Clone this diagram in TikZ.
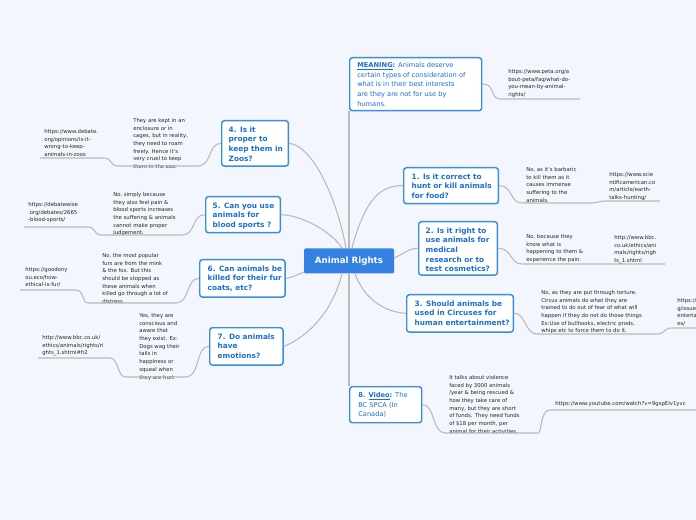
\documentclass[tikz,border=0pt]{standalone}
\usepackage{fontspec}
\setmainfont{DejaVu Sans}
\begin{document}
\begin{tikzpicture}[x=0.75pt,y=-0.75pt,
  branch/.style={draw=bluel,line width=1.1pt,fill=white,rounded corners=2pt,align=left,text=blued,font=\fontsize{5.5}{7.2}\selectfont\bfseries,inner sep=0pt,anchor=north west},
  leaf/.style={align=left,text=gray!30!black,font=\fontsize{4}{5.8}\selectfont,inner sep=0pt,anchor=north west},
  conn/.style={draw=gray!55,line width=0.8pt}]
\definecolor{bluel}{HTML}{3A8EE0}
\definecolor{blued}{HTML}{1A6FD4}
\definecolor{bg}{HTML}{F4F6FD}
\fill[bg] (0,0) rectangle (696,520);
\useasboundingbox (0,0) rectangle (696,520);
% center
\node[fill=bluel!90!blue,text=white,font=\fontsize{6.5}{8}\selectfont\bfseries,minimum width=67.5pt,minimum height=18.75pt,rounded corners=1pt] (c) at (349,261) {Animal Rights};
% branches
\node[branch,minimum width=99pt,minimum height=39.75pt] (m) at (349,57) {};
\node[leaf,text=blued,font=\fontsize{5}{7.3}\selectfont,anchor=north west] at (357,62) {\textbf{\underline{MEANING}:} Animals deserve\\certain types of consideration of\\what is in their best interests\\are they are not for use by\\humans.};
\node[branch,minimum width=71pt,minimum height=27pt] (b1) at (403,167) {};
\node[branch,anchor=north west,draw=none,fill=none] at (411,173) {1. Is it correct to\\hunt or kill animals\\for food?};
\node[branch,minimum width=59pt,minimum height=40pt] (b2) at (418,221) {};
\node[branch,draw=none,fill=none] at (425,227) {2. Is it right to\\use animals for\\medical\\research or to\\test cosmetics?};
\node[branch,minimum width=80pt,minimum height=28pt] (b3) at (406,294) {};
\node[branch,draw=none,fill=none] at (414,300) {3. Should animals be\\used in Circuses for\\human entertainment?};
\node[branch,minimum width=54pt,minimum height=27pt] (b8) at (349,386) {};
\node[leaf,text=blued,font=\fontsize{5}{7.3}\selectfont] at (358,392) {\textbf{8. \underline{Video}:} The\\BC SPCA (In\\Canada)};
\node[branch,minimum width=50pt,minimum height=34pt] (b4) at (221,120) {};
\node[branch,draw=none,fill=none] at (228,126) {4. Is it\\proper to\\keep them in\\Zoos?};
\node[branch,minimum width=56pt,minimum height=27pt] (b5) at (205,196) {};
\node[branch,draw=none,fill=none] at (212,202) {5. Can you use\\animals for\\blood sports ?};
\node[branch,minimum width=64pt,minimum height=28pt] (b6) at (199,259) {};
\node[branch,draw=none,fill=none] at (207,265) {6. Can animals be\\killed for their fur\\coats, etc?};
\node[branch,minimum width=55pt,minimum height=28pt] (b7) at (209,327) {};
\node[branch,draw=none,fill=none] at (217,333) {7. Do animals\\have\\emotions?};
% center connectors
\draw[conn] (349,248) -- (m.south west);
\draw[conn] (349,274) -- (b8.north west);
\draw[conn] (352,248) .. controls (365,200) and (380,185) .. (b1.west);
\draw[conn] (394,258) .. controls (405,253) and (410,248) .. (b2.west);
\draw[conn] (355,274) .. controls (365,300) and (385,312) .. (b3.west);
\draw[conn] (346,248) .. controls (335,190) and (310,145) .. (b4.east);
\draw[conn] (342,248) .. controls (330,230) and (300,215) .. (b5.east);
\draw[conn] (304,272) .. controls (295,276) and (290,278) .. (b6.east);
\draw[conn] (342,274) .. controls (330,320) and (300,340) .. (b7.east);
% right leaves
\node[leaf] (lm) at (508,69) {https://www.peta.org/a\\bout-peta/faq/what-do-\\you-mean-by-animal-\\rights/};
\draw[conn] (m.east) .. controls (495,83) and (490,99) .. (500,99) -- (580,99);
\node[leaf] (l1) at (526,167) {No, as it's barbaric\\to kill them as it\\causes immense\\suffering to the\\animals.};
\draw[conn] (b1.east) .. controls (512,185) and (510,203) .. (522,203) -- (590,203) .. controls (598,203) and (598,201) .. (606,201) -- (660,201);
\node[leaf] (u1) at (609,172) {https://www.scie\\ntificamerican.co\\m/article/earth-\\talks-hunting/};
\node[leaf] (l2) at (526,234) {No, because they\\know what is\\happening to them \&\\experience the pain.};
\draw[conn] (b2.east) .. controls (512,248) and (510,264) .. (522,264) -- (605,264) -- (665,264);
\node[leaf] (u2) at (614,235) {http://www.bbc.\\co.uk/ethics/ani\\mals/rights/righ\\ts\_1.shtml};
\node[leaf] (l3) at (541,290) {No, as they are put through torture.\\Circus animals do what they are\\trained to do out of fear of what will\\happen if they do not do those things\\Ex:Use of bullhooks, electric prods,\\whips etc to force them to do it.};
\draw[conn] (b3.east) .. controls (525,312) and (525,334) .. (537,334) -- (658,334) .. controls (664,334) and (664,328) .. (672,328) -- (696,328);
\node[leaf] (u3) at (677,298) {https://\\g/issue\\enterta\\es/};
\node[leaf] (l8) at (449,375) {It talks about violence\\faced by 3000 animals\\/year \& being rescued \&\\how they take care of\\many, but they are short\\of funds. They need funds\\of \$18 per month, per\\animal for their activities.};
\draw[conn] (b8.east) .. controls (435,404) and (432,433) .. (445,433) -- (538,433) .. controls (542,433) and (540,410) .. (550,410) -- (696,410);
\node[leaf] (u8) at (555,401) {https://www.youtube.com/watch?v=9gspEIv1yvc};
% left leaves
\node[leaf] (l4) at (133,118) {They are kept in an\\enclosure or in\\cages, but in reality,\\they need to roam\\freely. Hence it's\\very cruel to keep\\them in the zoo.};
\draw[conn] (b4.west) .. controls (208,143) and (212,166) .. (198,166) -- (118,166) .. controls (110,166) and (112,158) .. (104,158) -- (40,158);
\node[leaf] (u4) at (44,129) {https://www.debate.\\org/opinions/is-it-\\wrong-to-keep-\\animals-in-zoos};
\node[leaf] (l5) at (113,192) {No, simply because\\they also feel pain \&\\blood sports increases\\the suffering \& animals\\cannot make proper\\judgement.};
\draw[conn] (b5.west) .. controls (192,214) and (196,235) .. (182,235) -- (100,235) .. controls (94,235) and (96,227) .. (88,227) -- (24,227);
\node[leaf] (u5) at (28,202) {https://debatewise\\.org/debates/2665\\-blood-sports/};
\node[leaf] (l6) at (102,253) {No, the most popular\\furs are from the mink\\\& the fox. But this\\should be stopped as\\these animals when\\killed go through a lot of\\distress.};
\draw[conn] (b6.west) .. controls (186,278) and (190,303) .. (176,303) -- (88,303) .. controls (82,303) and (84,290) .. (76,290) -- (20,290);
\node[leaf] (u6) at (25,267) {https://goodony\\ou.eco/how-\\ethical-is-fur/};
\node[leaf] (l7) at (139,313) {Yes, they are\\conscious and\\aware that\\they exist. Ex:\\Dogs wag their\\tails in\\happiness or\\squeal when\\they are hurt};
\draw[conn] (b7.west) .. controls (196,345) and (200,377) .. (186,377) -- (125,377) .. controls (118,377) and (118,358) .. (110,358) -- (38,358);
\node[leaf] (u7) at (42,335) {http://www.bbc.co.uk/\\ethics/animals/rights/ri\\ghts\_1.shtml\#h2};
\end{tikzpicture}
\end{document}
